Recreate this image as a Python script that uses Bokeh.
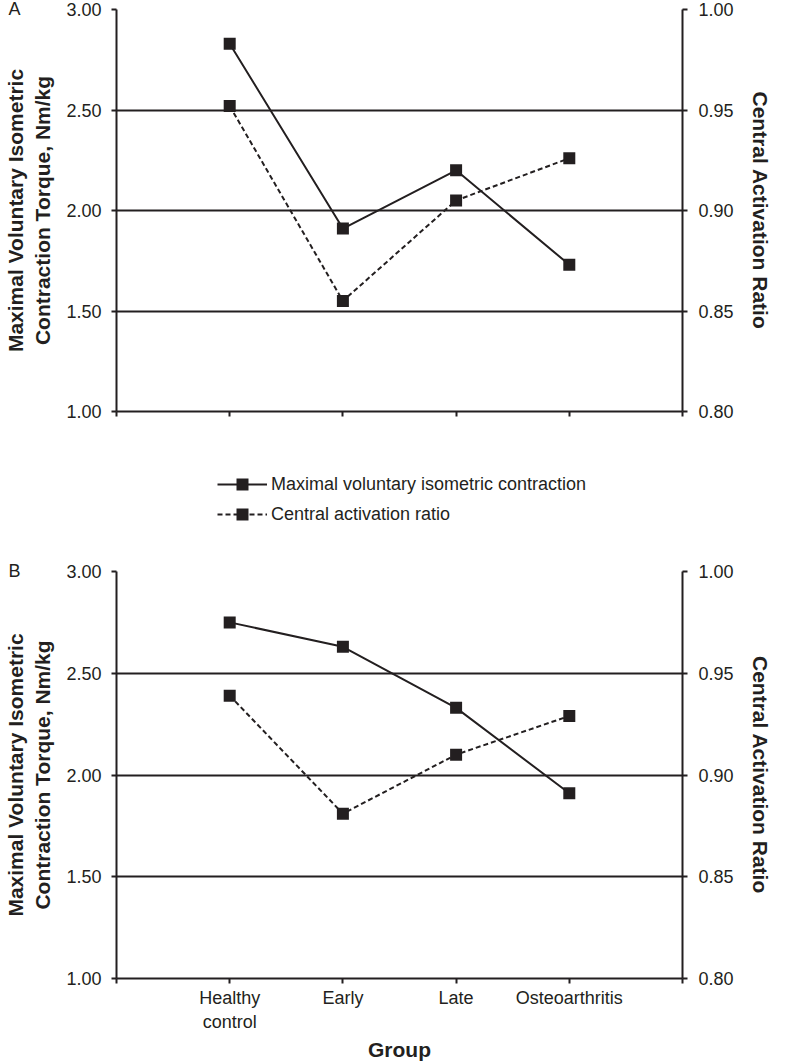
from bokeh.plotting import figure
from bokeh.models import (Range1d, LinearAxis, FixedTicker, NumeralTickFormatter,
                          Legend, LegendItem)
from bokeh.layouts import column
from bokeh.embed import file_html
from bokeh.resources import INLINE

# ---------------- data ----------------
categories = ["Healthy control", "Early", "Late", "Osteoarthritis"]
category_tick_labels = ["Healthy\ncontrol", "Early", "Late", "Osteoarthritis"]
a_mvic = [2.83, 1.91, 2.20, 1.73]
a_car = [0.952, 0.855, 0.905, 0.926]
b_mvic = [2.75, 2.63, 2.33, 1.91]
b_car = [0.939, 0.881, 0.910, 0.929]
left_ticks = [1.00, 1.50, 2.00, 2.50, 3.00]
right_ticks = [0.80, 0.85, 0.90, 0.95, 1.00]
series_names = ["Maximal voluntary isometric contraction", "Central activation ratio"]
panel_letters = ["A", "B"]
y_title_left = "Maximal Voluntary Isometric\nContraction Torque, Nm/kg"
y_title_right = "Central Activation Ratio"
x_title = "Group"

INK = "#231f20"
FONT = "Liberation Sans"
W = 777
x_pos = list(range(1, len(categories) + 1))


def style_axis(ax):
    ax.axis_line_color = INK
    ax.axis_line_width = 2
    ax.major_tick_line_color = INK
    ax.major_tick_line_width = 2
    ax.major_tick_out = 5
    ax.major_tick_in = 0
    ax.minor_tick_line_color = None
    ax.major_label_text_font = FONT
    ax.major_label_text_font_size = "18px"
    ax.major_label_text_color = INK
    ax.axis_label_text_font = FONT
    ax.axis_label_text_font_size = "21px"
    ax.axis_label_text_font_style = "bold"
    ax.axis_label_text_color = INK


def make_panel(mvic, car, letter, height, top, bottom, show_x_labels):
    p = figure(width=W, height=height,
               x_range=Range1d(0, len(categories) + 1),
               y_range=Range1d(left_ticks[0], left_ticks[-1]),
               output_backend="svg", toolbar_location=None,
               min_border_left=109, min_border_right=95,
               min_border_top=top, min_border_bottom=bottom)
    p.outline_line_color = None
    p.extra_y_ranges = {"car": Range1d(right_ticks[0], right_ticks[-1])}

    # panel letter as a left-aligned title pulled down to the frame's top edge
    p.title.text = letter
    p.title.align = "left"
    p.title.offset = -108
    p.title.standoff = -20
    p.title.vertical_align = "middle"
    p.title.text_font = FONT
    p.title.text_font_size = "18px"
    p.title.text_font_style = "normal"
    p.title.text_color = INK

    # left axis
    ly = p.yaxis[0]
    ly.ticker = FixedTicker(ticks=left_ticks)
    ly.formatter = NumeralTickFormatter(format="0.00")
    style_axis(ly)
    ly.major_label_standoff = 10
    ly.axis_label = y_title_left
    ly.axis_label_standoff = 9

    # right axis
    ry = LinearAxis(y_range_name="car", ticker=FixedTicker(ticks=right_ticks),
                    formatter=NumeralTickFormatter(format="0.00"))
    style_axis(ry)
    ry.major_label_standoff = 11
    ry.axis_label = y_title_right
    ry.axis_label_standoff = 12
    p.add_layout(ry, "right")

    # x axis
    xa = p.xaxis[0]
    xa.ticker = FixedTicker(ticks=[0] + x_pos + [len(categories) + 1])
    style_axis(xa)
    overrides = {0: "", len(categories) + 1: ""}
    for xp, lab in zip(x_pos, category_tick_labels):
        overrides[xp] = lab
    xa.major_label_overrides = overrides
    xa.major_label_standoff = 4
    if show_x_labels:
        xa.axis_label = x_title
        xa.axis_label_standoff = 3
    else:
        xa.major_label_text_color = None

    # grid
    p.xgrid.visible = False
    p.ygrid.ticker = FixedTicker(ticks=left_ticks)
    p.ygrid.grid_line_color = INK
    p.ygrid.grid_line_width = 2

    # series
    p.line(x_pos, mvic, line_color=INK, line_width=2)
    p.scatter(x_pos, mvic, marker="square", size=12, fill_color=INK, line_color=None)
    p.line(x_pos, car, line_color=INK, line_width=2, line_dash="5 3", y_range_name="car")
    p.scatter(x_pos, car, marker="square", size=12, fill_color=INK, line_color=None,
              y_range_name="car")
    return p


pa = make_panel(a_mvic, a_car, panel_letters[0], 449, 9, 38, False)

# legend strip (its frame is aligned with the panels' frames by the column)
lg = figure(width=W, height=82, x_range=Range1d(0, 1), y_range=Range1d(0, 1),
            output_backend="svg", toolbar_location=None, min_border=0,
            x_axis_location=None, y_axis_location=None)
lg.outline_line_color = None
lg.xgrid.visible = False
lg.ygrid.visible = False
# placeholder renderers lie outside the ranges: only their legend glyphs show
r1 = lg.line(x=[-5, -4], y=[-5, -5], line_color=INK, line_width=2)
s1 = lg.scatter(x=[-5], y=[-5], marker="square", size=12, fill_color=INK, line_color=None)
r2 = lg.line(x=[-5, -4], y=[-5, -5], line_color=INK, line_width=2, line_dash="5 3")
s2 = lg.scatter(x=[-5], y=[-5], marker="square", size=12, fill_color=INK, line_color=None)
legend = Legend(items=[LegendItem(label=series_names[0], renderers=[r1, s1]),
                       LegendItem(label=series_names[1], renderers=[r2, s2])],
                location=(101, 2), glyph_width=50, glyph_height=30, label_height=30,
                label_standoff=4, spacing=-2, padding=0, margin=0,
                border_line_color=None, background_fill_alpha=0,
                label_text_font=FONT, label_text_font_size="18px",
                label_text_color=INK)
lg.add_layout(legend)

pb = make_panel(b_mvic, b_car, panel_letters[1], 532, 40, 84, True)

layout = column(pa, lg, pb, spacing=0)
open("out.html", "w").write(file_html(layout, INLINE))
